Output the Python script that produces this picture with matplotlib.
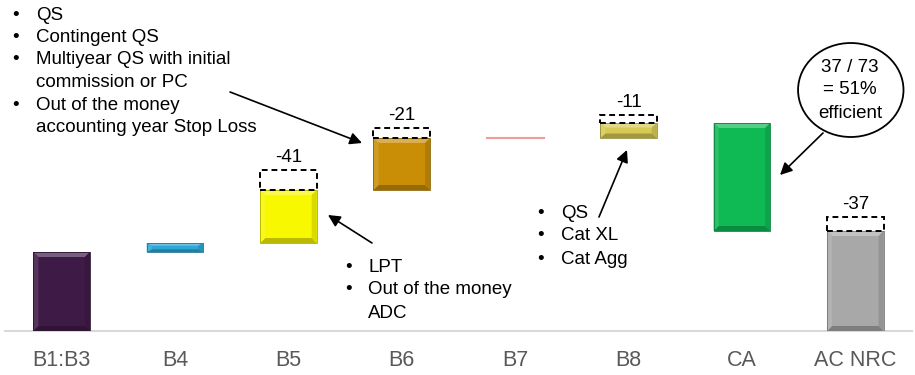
import matplotlib
matplotlib.use("Agg")
import matplotlib.pyplot as plt
from matplotlib.patches import Rectangle, Polygon, Ellipse
from matplotlib.colors import to_rgb

plt.rcParams['font.family'] = ['Liberation Sans', 'DejaVu Sans']

# waterfall data (chart units)
categories = ['B1:B3', 'B4', 'B5', 'B6', 'B7', 'B8', 'CA', 'AC NRC']
deltas = [79, 9, 53, 52, 0, 15, -108, None]   # None -> total bar
colors = ['#3e1a46', '#2ea6d6', '#f8f800', '#c98d06', '#f19c9c', '#d6ca55', '#0fb954', '#a8a8a8']

# dashed "cost" boxes sitting on top of some bars
box_idx = [2, 3, 5, 7]
box_heights = [20, 10, 8, 14]
box_labels = ['-41', '-21', '-11', '-37']

left_items = ['QS', 'Contingent QS', 'Multiyear QS with initial\ncommission or PC',
              'Out of the money\naccounting year Stop Loss']
lpt_items = ['LPT', 'Out of the money\nADC']
b8_items = ['QS', 'Cat XL', 'Cat Agg']
circle_lines = ['37 / 73', '= 51%', 'efficient']


def shade(c, f):
    r, g, b = to_rgb(c)
    if f > 0:
        return (r + (1 - r) * f, g + (1 - g) * f, b + (1 - b) * f)
    return (r * (1 + f), g * (1 + f), b * (1 + f))


def bevel_bar(ax, x, y0, y1, w, color):
    xl, xr = x - w / 2, x + w / 2
    h = y1 - y0
    bx = 0.045
    by = min(5, h * 0.3)
    ax.add_patch(Rectangle((xl, y0), w, h, facecolor=color, edgecolor='none', zorder=3))
    ax.add_patch(Polygon([(xl, y1), (xr, y1), (xr - bx, y1 - by), (xl + bx, y1 - by)],
                         facecolor=shade(color, 0.3), edgecolor='none', zorder=4))
    ax.add_patch(Polygon([(xl, y0), (xr, y0), (xr - bx, y0 + by), (xl + bx, y0 + by)],
                         facecolor=shade(color, -0.25), edgecolor='none', zorder=4))
    ax.add_patch(Polygon([(xl, y0), (xl, y1), (xl + bx, y1 - by), (xl + bx, y0 + by)],
                         facecolor=shade(color, 0.12), edgecolor='none', zorder=4))
    ax.add_patch(Polygon([(xr, y0), (xr, y1), (xr - bx, y1 - by), (xr - bx, y0 + by)],
                         facecolor=shade(color, -0.12), edgecolor='none', zorder=4))
    ax.add_patch(Rectangle((xl, y0), w, h, facecolor='none',
                           edgecolor=shade(color, -0.3), lw=0.6, zorder=5))


def bullets(ax, items, xb, xt, ytop, step, size=13.5):
    y = ytop
    for item in items:
        ax.text(xb, y, '•', fontsize=size, va='center', ha='left', clip_on=False)
        for line in item.split('\n'):
            ax.text(xt, y, line, fontsize=size, va='center', ha='left', clip_on=False)
            y -= step


fig = plt.figure(figsize=(9.15, 3.75), dpi=100)
ax = fig.add_axes([5 / 915, 44 / 375, 907 / 915, 331 / 375])
ax.set_xlim(-0.5, 7.5)
ax.set_ylim(0, 331)

width = 0.5
level = 0
tops = []
for i, d in enumerate(deltas):
    if d is None:
        y0, y1 = 0, level
    elif i == 0:
        y0, y1 = 0, d
        level = d
    else:
        y0, y1 = sorted([level, level + d])
        level += d
    tops.append(y1)
    if y1 - y0 == 0:
        ax.plot([i - width / 2, i + width / 2], [y0, y0], color=colors[i], lw=1.5, zorder=3)
    else:
        bevel_bar(ax, i, y0, y1, width, colors[i])

for i, h, lab in zip(box_idx, box_heights, box_labels):
    ax.add_patch(Rectangle((i - width / 2, tops[i]), width, h, facecolor='white',
                           edgecolor='black', lw=1.4, ls=(0, (3, 2)), zorder=5))
    ax.text(i, tops[i] + h + 4, lab, ha='center', va='bottom', fontsize=13.5)

# call-out texts
bullets(ax, left_items, -0.438, -0.227, 316, 22.5)
bullets(ax, lpt_items, 2.499, 2.702, 64, 23)
bullets(ax, b8_items, 4.192, 4.404, 118, 23)

ax.add_patch(Ellipse((6.96, 241), 0.93, 94, facecolor='white', edgecolor='black', lw=1.3,
                     zorder=5, clip_on=False))
for k, line in enumerate(circle_lines):
    ax.text(6.955, 264 - 23 * k, line, ha='center', va='center', fontsize=13.5, zorder=6)

arrow = dict(arrowstyle='-|>', color='black', lw=1.2, mutation_scale=18, shrinkA=0, shrinkB=0)
ax.annotate('', xy=(2.649, 188), xytext=(1.485, 239), arrowprops=arrow)
ax.annotate('', xy=(2.349, 116), xytext=(2.737, 88), arrowprops=arrow)
ax.annotate('', xy=(4.986, 181), xytext=(4.739, 114), arrowprops=arrow)
ax.annotate('', xy=(6.336, 156), xytext=(6.715, 198), arrowprops=arrow)

ax.set_xticks(range(len(categories)))
ax.set_xticklabels(categories, fontsize=15.5, color='#595959')
ax.tick_params(axis='x', length=0, pad=14)
ax.set_yticks([])
for s in ['top', 'left', 'right']:
    ax.spines[s].set_visible(False)
ax.spines['bottom'].set_color('#d9d9d9')
ax.spines['bottom'].set_linewidth(1.5)
ax.patch.set_alpha(0)

fig.savefig('out.png', dpi=100)
